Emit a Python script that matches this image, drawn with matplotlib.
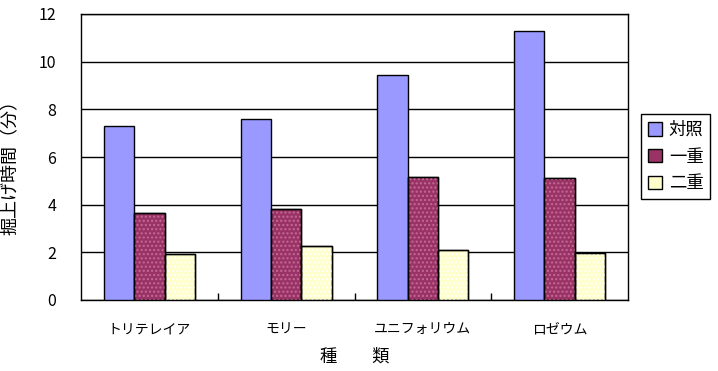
import numpy as np
import matplotlib
matplotlib.use("Agg")
from matplotlib import pyplot as plt

plt.rcParams['font.family'] = ['Noto Sans CJK JP', 'DejaVu Sans']

# data
categories = ['トリテレイア', 'モリー', 'ユニフォリウム', 'ロゼウム']
series_names = ['対照', '一重', '二重']
taisho = [7.3, 7.6, 9.45, 11.3]
ichiju = [3.65, 3.82, 5.15, 5.1]
niju = [1.93, 2.25, 2.1, 1.97]
yticks = [0, 2, 4, 6, 8, 10, 12]

colors = ['#9999FF', '#993366', '#FFFFCC']
hatch_colors = [None, '#c46a95', '#ffffff']

fig = plt.figure(figsize=(7.18, 3.71), dpi=100)
ax = fig.add_axes([81 / 718, 1 - 300 / 371, 547 / 718, 286 / 371])

x = np.arange(len(categories))
w = 0.222
for i, (vals, name) in enumerate(zip([taisho, ichiju, niju], series_names)):
    pos = x + (i - 1) * w
    ax.bar(pos, vals, w, color=colors[i], edgecolor='black', linewidth=1,
           label=name, zorder=3)
    if hatch_colors[i]:
        # dotted texture like the original fill pattern
        ax.bar(pos, vals, w, facecolor='none', edgecolor=hatch_colors[i],
               hatch='....', linewidth=0, zorder=3.5)
        ax.bar(pos, vals, w, facecolor='none', edgecolor='black',
               linewidth=1, zorder=4)

ax.set_xlim(-0.5, len(categories) - 0.5)
ax.set_ylim(0, 12)
ax.set_yticks(yticks)
ax.set_yticklabels([str(v) for v in yticks], fontsize=11.5)
ax.tick_params(axis='y', length=0, pad=18)
ax.set_xticks(x)
ax.set_xticklabels(categories, fontsize=10)
ax.tick_params(axis='x', length=0, pad=16)
# category boundary ticks pointing inward
ax.set_xticks(np.arange(0.5, len(categories) - 1, 1), minor=True)
ax.tick_params(axis='x', which='minor', direction='in', length=5, width=1)
ax.grid(axis='y', color='black', linewidth=1, zorder=0)
for s in ax.spines.values():
    s.set_linewidth(1)
    s.set_color('black')

ax.set_ylabel('掘上げ時間（分）', fontsize=13)
ax.yaxis.set_label_coords((20 - 81) / 547, 0.48)
ax.set_xlabel('種　　類', fontsize=12.5, labelpad=8)

handles, labels = ax.get_legend_handles_labels()
leg = fig.legend(handles, labels, loc='upper left',
                 bbox_to_anchor=(641 / 718, 1 - 114 / 371),
                 fontsize=12.5, frameon=True, fancybox=False,
                 edgecolor='black', framealpha=1,
                 handlelength=0.8, handleheight=0.8, handletextpad=0.4,
                 borderpad=0.4, labelspacing=0.5, borderaxespad=0)
leg.get_frame().set_linewidth(1)

fig.savefig('out.png', dpi=100)
